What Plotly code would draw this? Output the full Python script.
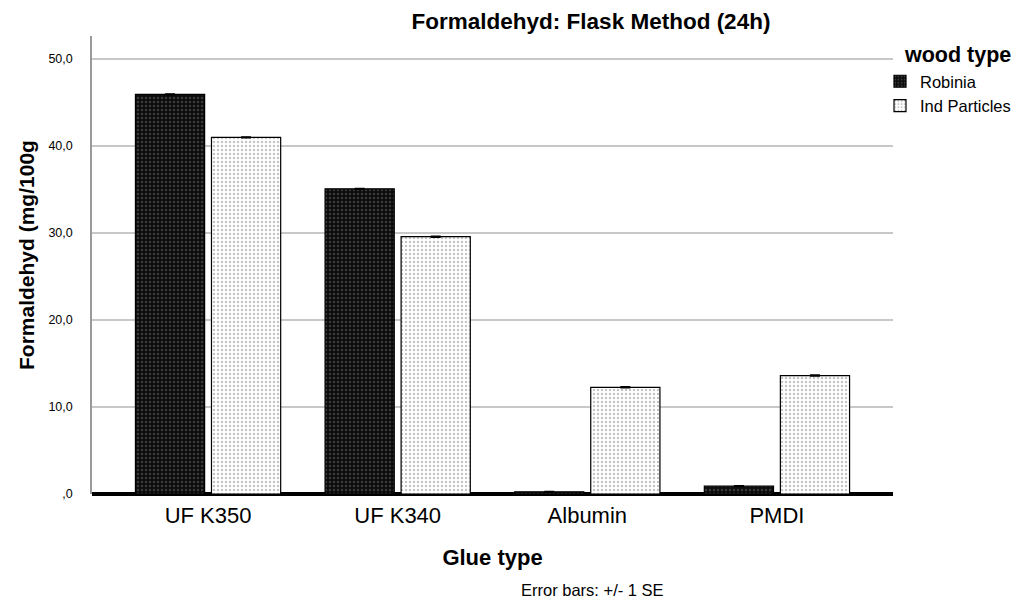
import plotly.graph_objects as go

glue_types = ["UF K350", "UF K340", "Albumin", "PMDI"]
robinia = [45.9, 35.05, 0.25, 0.9]
ind_particles = [40.95, 29.55, 12.25, 13.6]
robinia_se = [0.05, 0.05, 0.05, 0.05]
ind_se = [0.05, 0.05, 0.06, 0.06]
y_ticks = [0, 10, 20, 30, 40, 50]
y_tick_labels = [",0", "10,0", "20,0", "30,0", "40,0", "50,0"]

font = "Liberation Sans, Arial, sans-serif"

# the page body has an 8px margin, so the figure is drawn 8px smaller and
# every position below is given in window pixels and shifted back by 8
OFF = 8
FIG_W, FIG_H = 1023 - OFF, 602 - OFF
L, R, T, B = 92 - OFF, 893 - OFF, 36 - OFF, 494 - OFF
W, H = R - L, B - T


def px_x(x):
    return (x - OFF - L) / W


def px_y(y):
    return (B - (y - OFF)) / H


fig = go.Figure()
fig.add_trace(go.Bar(
    x=glue_types, y=robinia, name="Robinia",
    marker=dict(color="#0c0c0c", line=dict(color="#000000", width=1.2),
                pattern=dict(shape=".", fgcolor="#6a6a6a", bgcolor="#0c0c0c",
                             size=4, solidity=0.3)),
    error_y=dict(type="data", array=robinia_se, color="black", thickness=1.5, width=5),
))
fig.add_trace(go.Bar(
    x=glue_types, y=ind_particles, name="Ind Particles",
    marker=dict(color="white", line=dict(color="#000000", width=1.2),
                pattern=dict(shape=".", fgcolor="#8a8a8a", bgcolor="white",
                             size=4, solidity=0.3)),
    error_y=dict(type="data", array=ind_se, color="black", thickness=1.5, width=5),
))

fig.update_layout(
    width=FIG_W, height=FIG_H,
    paper_bgcolor="white", plot_bgcolor="white",
    margin=dict(l=L, r=FIG_W - R, t=T, b=FIG_H - B, autoexpand=False),
    barmode="group", bargap=0.198, bargroupgap=0.09,
    font=dict(family=font, color="black"),
    title=dict(text="<b>Formaldehyd: Flask Method (24h)</b>", x=(591 - OFF) / FIG_W,
               xanchor="center", y=1 - (21 - OFF) / FIG_H, yanchor="middle",
               font=dict(size=22.5)),
    showlegend=True,
    legend=dict(x=px_x(880), xanchor="left", y=px_y(64), yanchor="top",
                font=dict(size=16.5), tracegroupgap=0, itemwidth=30,
                bgcolor="rgba(0,0,0,0)"),
    xaxis=dict(range=[-0.612, 3.612], showgrid=False, showline=False, ticks="",
               tickfont=dict(size=22), zeroline=False, ticklabelstandoff=6,
               title=dict(text="<b>Glue type</b>", font=dict(size=22), standoff=22)),
    yaxis=dict(range=[0, 52.6], tickvals=y_ticks, ticktext=y_tick_labels,
               showgrid=True, gridcolor="#c8c8c8", gridwidth=1.5,
               showline=True, linecolor="#9a9a9a", linewidth=1.5,
               zeroline=True, zerolinecolor="black", zerolinewidth=3.5,
               ticks="", tickfont=dict(size=12.5), ticklabelstandoff=15),
    annotations=[
        dict(text="<b>Formaldehyd (mg/100g</b>", textangle=-90, xref="paper", yref="paper",
             x=px_x(27), y=px_y(255), xanchor="center", yanchor="middle",
             showarrow=False, font=dict(size=21)),
        dict(text="<b>wood type</b>", xref="paper", yref="paper",
             x=px_x(902), y=px_y(55), xanchor="left", yanchor="middle",
             showarrow=False, font=dict(size=21.5)),
        dict(text="Error bars: +/- 1 SE", xref="paper", yref="paper",
             x=px_x(592), y=px_y(590), xanchor="center", yanchor="middle",
             showarrow=False, font=dict(size=16.5)),
    ],
)

fig.write_html("out.html")
